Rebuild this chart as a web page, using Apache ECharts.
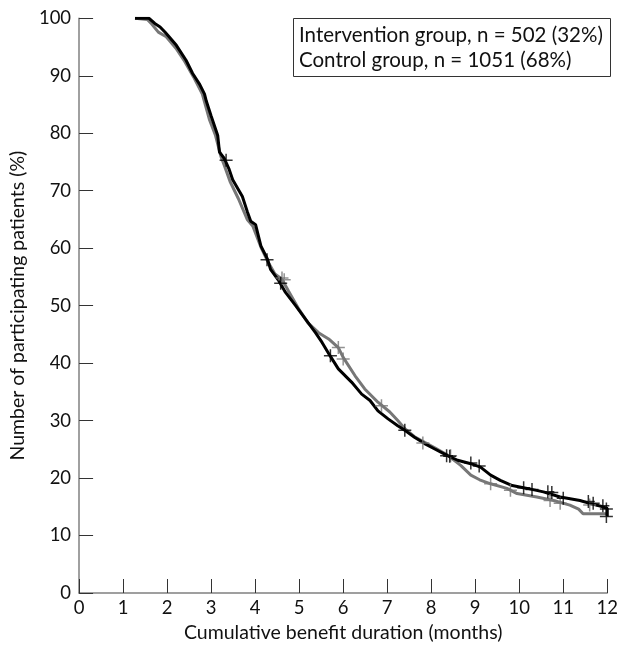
<!DOCTYPE html>
<html><head><meta charset="utf-8">
<script src="https://cdn.jsdelivr.net/npm/echarts@6/dist/echarts.min.js"></script>
<style>html,body{margin:0;padding:0;background:#fff}#c{width:621px;height:648px}</style>
</head><body><div id="c"></div>
<script>
var xTicks = [0,1,2,3,4,5,6,7,8,9,10,11,12];
var yTicks = [0,10,20,30,40,50,60,70,80,90,100];
var legendLines = ['Intervention group, n = 502 (32%)', 'Control group, n = 1051 (68%)'];
var xTitle = 'Cumulative benefit duration (months)';
var yTitle = 'Number of participating patients (%)';

// black curve
var interventionCurve = [[1.27,100],[1.59,100],[1.72,99.1],[1.84,98.5],[1.95,97.6],[2.02,97.0],[2.21,95.3],[2.43,92.7],[2.58,90.4],[2.74,88.5],[2.85,86.8],[2.89,85.6],[3.0,83.0],[3.15,79.6],[3.19,76.7],[3.30,75.6],[3.41,73.7],[3.49,71.9],[3.71,69.0],[3.82,66.4],[3.90,64.7],[4.01,64.1],[4.13,60.4],[4.28,58.1],[4.35,56.3],[4.54,54.3],[4.69,52.3],[4.92,50.0],[5.14,47.7],[5.37,45.3],[5.52,43.6],[5.70,41.3],[5.89,39.0],[6.19,36.7],[6.42,34.6],[6.61,33.5],[6.79,31.7],[7.02,30.3],[7.24,29.1],[7.40,28.3],[7.62,27.1],[7.85,26.0],[8.07,25.1],[8.37,23.9],[8.60,23.1],[8.90,22.5],[9.12,21.9],[9.35,20.5],[9.57,19.6],[9.84,18.7],[10.18,18.2],[10.55,17.6],[10.93,16.7],[11.38,16.1],[11.60,15.6],[11.9,15.0],[12.0,14.7],[12.0,13.3]];
var interventionCensored = [[3.34,75.3],[4.27,58.0],[4.58,53.9],[5.71,41.3],[7.40,28.3],[8.35,23.9],[8.42,23.8],[8.90,22.6],[9.09,22.1],[10.10,18.3],[10.29,18.0],[10.65,17.6],[10.74,17.5],[11.0,16.5],[11.57,15.9],[11.68,15.6],[11.9,15.2],[11.98,14.6],[11.98,13.3]];

// grey curve
var controlCurve = [[1.27,100],[1.55,99.8],[1.65,99.0],[1.80,97.6],[1.98,96.8],[2.2,94.8],[2.4,92.5],[2.6,89.8],[2.8,86.8],[2.96,82.4],[3.1,79.6],[3.22,76.0],[3.30,74.4],[3.43,71.6],[3.62,68.6],[3.82,65.0],[3.95,63.8],[4.13,60.2],[4.3,57.5],[4.45,55.5],[4.61,54.6],[4.76,52.5],[5.0,49.3],[5.2,47.0],[5.44,45.3],[5.67,44.2],[5.89,42.7],[6.0,41.0],[6.27,37.8],[6.49,35.5],[6.79,33.2],[7.06,31.5],[7.24,30.0],[7.40,28.6],[7.62,27.2],[7.85,26.2],[8.07,25.3],[8.37,24.0],[8.50,23.2],[8.67,22.2],[8.90,20.5],[9.1,19.7],[9.35,19.0],[9.72,18.2],[9.95,17.3],[10.40,16.7],[10.78,16.1],[11.15,15.3],[11.35,14.6],[11.45,13.8],[12.0,13.8]];
var controlCensored = [[4.61,54.8],[4.66,54.5],[5.89,42.7],[6.0,40.7],[6.87,32.6],[7.81,26.1],[8.44,23.9],[9.35,19.0],[9.8,17.9],[10.7,16.1],[10.93,15.6],[11.6,15.3]];

var FONT = 'Lato';
var cross = 'path://M6,0L6,12M0,6L12,6';
var chart = echarts.init(document.getElementById('c'), null, {renderer:'canvas'});
chart.setOption({
  animation:false,
  backgroundColor:'#fff',
  textStyle:{fontFamily:FONT},
  title:{
    text: legendLines.join('\n'),
    left: 293, top: 18,
    padding:[5,8,4,6],
    borderColor:'#333', borderWidth:1,
    textStyle:{fontFamily:FONT, fontSize:20.5, fontWeight:'normal', color:'#111', lineHeight:25}
  },
  grid:{left:78.7, right:10, top:18.3, bottom:53.3, containLabel:false},
  xAxis:{
    type:'value', min:0, max:12, interval:1,
    name:xTitle, nameLocation:'middle', nameGap:30,
    nameTextStyle:{fontFamily:FONT, fontSize:19.5, color:'#111'},
    axisLine:{show:true, lineStyle:{color:'#808080', width:1.5}},
    axisTick:{show:true, inside:true, length:14, lineStyle:{color:'#333', width:1}},
    axisLabel:{fontFamily:FONT, fontSize:18.5, color:'#111', margin:6,
      formatter:function(v){return xTicks.indexOf(v)>=0?String(v):'';}},
    splitLine:{show:false}
  },
  yAxis:{
    type:'value', min:0, max:100, interval:10,
    name:yTitle, nameLocation:'middle', nameGap:45, nameRotate:90,
    nameTextStyle:{fontFamily:FONT, fontSize:19.5, color:'#111'},
    axisLine:{show:true, lineStyle:{color:'#808080', width:1.5}},
    axisTick:{show:true, inside:true, length:14, lineStyle:{color:'#333', width:1}},
    axisLabel:{fontFamily:FONT, fontSize:18.5, color:'#111', margin:8,
      formatter:function(v){return yTicks.indexOf(v)>=0?String(v):'';}},
    splitLine:{show:false}
  },
  series:[
    {type:'line', name:'Control group', data:controlCurve, showSymbol:false, symbol:'none',
      lineStyle:{color:'#777', width:3}, z:2},
    {type:'line', name:'Intervention group', data:interventionCurve, showSymbol:false, symbol:'none',
      lineStyle:{color:'#000', width:3}, z:3},
    {type:'scatter', data:controlCensored, symbol:cross, symbolSize:13,
      itemStyle:{color:'none', borderColor:'#777', borderWidth:1.5}, z:4},
    {type:'scatter', data:interventionCensored, symbol:cross, symbolSize:13,
      itemStyle:{color:'none', borderColor:'#000', borderWidth:1.5}, z:5}
  ]
});
</script></body></html>
